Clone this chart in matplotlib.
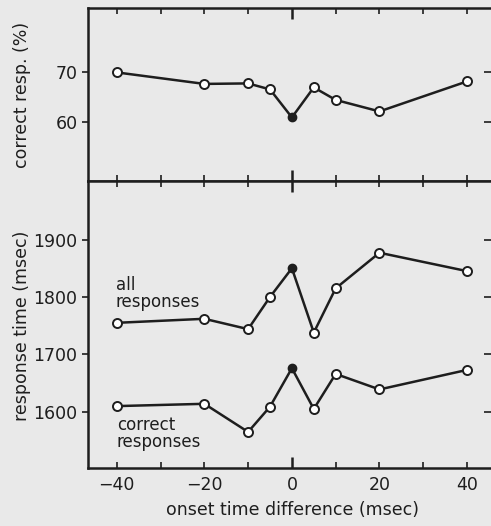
import matplotlib.pyplot as plt
from matplotlib import markers
import numpy as np

# onset time difference (msec)
onset = [-40, -20, -10, -5, 0, 5, 10, 20, 40]

# percentage correct responses
pct_correct = [69.9, 67.6, 67.7, 66.5, 60.9, 66.9, 64.4, 62.1, 68.1]

# response times (msec)
rt_all = [1755, 1762, 1744, 1800, 1850, 1738, 1815, 1877, 1845]
rt_correct = [1610, 1614, 1565, 1609, 1676, 1605, 1666, 1639, 1673]

bg = '#e9e9e9'
ink = '#1e1e1e'
plt.rcParams['font.family'] = ['DejaVu Sans']

fig = plt.figure(figsize=(4.91, 5.26), dpi=100, facecolor=bg)
ax1 = fig.add_axes([0.179, 0.656, 0.831, 0.329], facecolor=bg)
ax2 = fig.add_axes([0.179, 0.110, 0.831, 0.546], facecolor=bg, sharex=ax1)


def draw(ax, y):
    x = np.array(onset)
    y = np.array(y)
    ax.plot(x, y, color=ink, lw=1.8, zorder=2)
    open_pts = x != 0
    ax.plot(x[open_pts], y[open_pts], 'o', ms=6.5, mfc='white', mec=ink, mew=1.4, zorder=3)
    ax.plot(x[~open_pts], y[~open_pts], 'o', ms=6, mfc=ink, mec=ink, zorder=3)


draw(ax1, pct_correct)
draw(ax2, rt_all)
draw(ax2, rt_correct)

ax1.set_xlim(-46.6, 46.6)
ax1.set_ylim(48.2, 82.8)
ax2.set_ylim(1502, 2002)

ax1.set_yticks([60, 70])
ax2.set_yticks([1600, 1700, 1800, 1900])
ax2.set_xticks([-40, -20, 0, 20, 40])
ax2.set_xticks([-30, -10, 10, 30], minor=True)

for ax in (ax1, ax2):
    for s in ax.spines.values():
        s.set_linewidth(1.8)
        s.set_color(ink)
    ax.tick_params(axis='x', which='both', direction='in', top=True, bottom=True,
                   length=4, width=1.2, color=ink, labelsize=12.5, pad=6)
    ax.tick_params(axis='y', direction='out', left=True, right=True, length=4,
                   width=1.2, color=ink, labelsize=12.5, labelcolor=ink)
    # right spine sits just past the image edge, ticks point inward
    for t in ax.yaxis.get_major_ticks():
        t.tick2line.set_marker(markers.TICKLEFT)
        t.tick2line.set_markersize(9)
    t0 = ax.xaxis.get_major_ticks()[2]
    t0.tick1line.set_markersize(8)
    t0.tick2line.set_markersize(8)
    t0.tick1line.set_markeredgewidth(1.8)
    t0.tick2line.set_markeredgewidth(1.8)

ax1.tick_params(axis='x', labelbottom=False)
ax2.tick_params(axis='x', labelcolor=ink)

ax2.text(-40.2, 1806, 'all\nresponses', fontsize=12, color=ink,
         ha='left', va='center', linespacing=0.95)
ax2.text(-40.0, 1562, 'correct\nresponses', fontsize=12, color=ink,
         ha='left', va='center', linespacing=0.95)

fig.text(0.045, 0.82, 'correct resp. (%)', rotation=90, fontsize=12.5,
         color=ink, ha='center', va='center')
fig.text(0.045, 0.38, 'response time (msec)', rotation=90, fontsize=12.5,
         color=ink, ha='center', va='center')
fig.text(0.595, 0.03, 'onset time difference (msec)', fontsize=12.5,
         color=ink, ha='center', va='center')

fig.savefig('out.png', dpi=100, facecolor=bg)
